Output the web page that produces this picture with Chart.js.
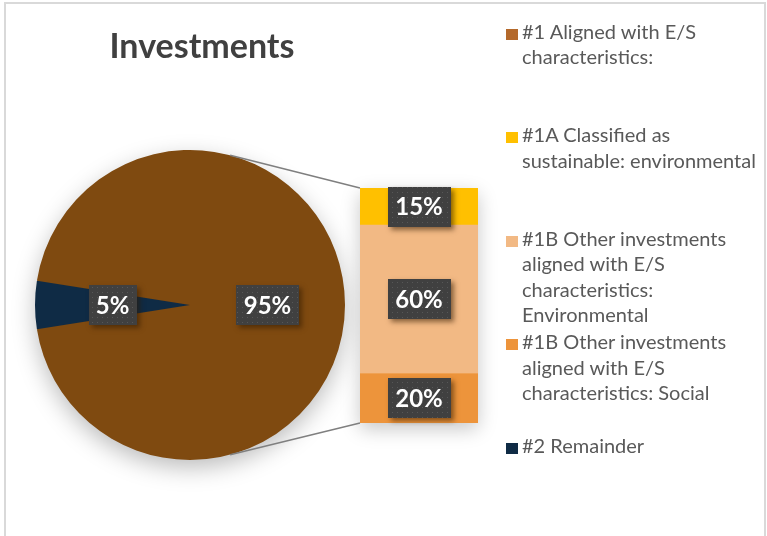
<!DOCTYPE html>
<html>
<head>
<meta charset="utf-8">
<script src="https://cdn.jsdelivr.net/npm/chart.js@4.4.1/dist/chart.umd.min.js"></script>
<style>
  html, body { margin: 0; padding: 0; background: #fff; }
  #wrap { position: relative; width: 767px; height: 536px; overflow: hidden; font-family: Lato, "Open Sans", sans-serif; }
  #frame { position: absolute; left: 4px; top: 2px; width: 758px; height: 600px; border: 2px solid #D9D9D9; }
  canvas.layer { position: absolute; left: 0; top: 0; }
  #title { position: absolute; left: 0; top: 25px; width: 404px; text-align: center;
           font: bold 34px Lato, sans-serif; line-height: 40px; color: #404040; }
  #legend { position: absolute; left: 506px; top: 0; }
  .item { position: absolute; left: 0; white-space: nowrap; }
  .box { position: absolute; left: 0; top: 10px; width: 12px; height: 11px; }
  .txt { position: absolute; left: 16px; top: 0; font-size: 20px; line-height: 25.5px; color: #595959; }
</style>
</head>
<body>
<div id="wrap">
  <div id="frame"></div>
  <canvas id="pieCanvas" class="layer" width="767" height="536"></canvas>
  <canvas id="barCanvas" class="layer" width="767" height="536"></canvas>
  <div id="title">Investments</div>
  <div id="legend"></div>
</div>
<script>
// pie: aligned vs remainder
const pieLabels = ['#1 Aligned with E/S characteristics:', '#2 Remainder'];
const pieValues = [95, 5];
const pieColors = ['#7F4A10', '#0F2B45'];

// bar: breakdown of the aligned slice (bottom to top)
const barLabels = [
  '#1B Other investments aligned with E/S characteristics: Social',
  '#1B Other investments aligned with E/S characteristics: Environmental',
  '#1A Classified as sustainable: environmental'
];
const barValues = [20, 60, 15];
const barColors = ['#ED943B', '#F2B984', '#FFC000'];

// legend entries, line by line
const legendLines = [
  ['#1 Aligned with E/S', 'characteristics:'],
  ['#1A Classified as', 'sustainable: environmental'],
  ['#1B Other investments', 'aligned with E/S', 'characteristics:', 'Environmental'],
  ['#1B Other investments', 'aligned with E/S', 'characteristics: Social'],
  ['#2 Remainder']
];
const legendColors = ['#B4692B', '#FFC000', '#F2B984', '#ED943B', '#0F2B45'];

// html legend
var legend = document.getElementById('legend');
legendLines.forEach(function(lines, i) {
  var item = document.createElement('div');
  item.className = 'item';
  item.style.top = (18.5 + i * 103.5) + 'px';
  item.innerHTML = '<div class="box" style="background:' + legendColors[i] + '"></div>' +
                   '<div class="txt">' + lines.join('<br>') + '</div>';
  legend.appendChild(item);
});

// dotted fill used by the data label boxes
var dotTile = document.createElement('canvas');
dotTile.width = 5; dotTile.height = 5;
(function() {
  var g = dotTile.getContext('2d');
  g.fillStyle = '#404040'; g.fillRect(0, 0, 5, 5);
  g.fillStyle = '#575757'; g.fillRect(2, 2, 1, 1);
})();

function drawTag(ctx, text, x, y) {
  ctx.save();
  ctx.font = 'bold 24px Lato';
  var w = 63, h = 40;
  if (text.length < 3) w = 48;
  var left = Math.round(x - w / 2), top = Math.round(y - h / 2);
  ctx.shadowColor = 'rgba(50,25,0,0.55)';
  ctx.shadowBlur = 5; ctx.shadowOffsetX = 3; ctx.shadowOffsetY = 3;
  ctx.fillStyle = '#404040';
  ctx.fillRect(left, top, w, h);
  ctx.shadowColor = 'transparent';
  ctx.fillStyle = ctx.createPattern(dotTile, 'repeat');
  ctx.fillRect(left, top, w, h);
  ctx.fillStyle = '#fff';
  ctx.textAlign = 'center'; ctx.textBaseline = 'middle';
  ctx.fillText(text, x, y + 1);
  ctx.restore();
}

function pct(v) { return v + '%'; }

const pieTotal = pieValues.reduce(function(a, b) { return a + b; }, 0);
const barTotal = barValues.reduce(function(a, b) { return a + b; }, 0);

var pieShadow = {
  id: 'pieShadow',
  beforeDatasetsDraw: function(chart) {
    var arc = chart.getDatasetMeta(0).data[0];
    var ctx = chart.ctx;
    ctx.save();
    ctx.shadowColor = 'rgba(0,0,0,0.28)';
    ctx.shadowBlur = 24; ctx.shadowOffsetY = 8;
    ctx.fillStyle = pieColors[0];
    ctx.beginPath();
    ctx.arc(arc.x, arc.y, arc.outerRadius - 1, 0, Math.PI * 2);
    ctx.fill();
    ctx.restore();
  }
};

var pieTags = {
  id: 'pieTags',
  afterDatasetsDraw: function(chart) {
    chart.getDatasetMeta(0).data.forEach(function(arc, i) {
      var p = arc.getCenterPoint();
      drawTag(chart.ctx, pct(pieValues[i]), p.x, p.y);
    });
  }
};

const pieChart = new Chart(document.getElementById('pieCanvas'), {
  type: 'pie',
  data: {
    labels: pieLabels,
    datasets: [{ data: pieValues, backgroundColor: pieColors, borderWidth: 0, hoverOffset: 0 }]
  },
  options: {
    responsive: false,
    animation: false,
    events: [],
    // first slice centred at 3 o'clock, facing the bar
    rotation: 90 - (pieValues[0] / pieTotal * 360) / 2,
    layout: { padding: { left: 35, top: 150, right: 422, bottom: 76 } },
    plugins: { legend: { display: false }, tooltip: { enabled: false } }
  },
  plugins: [pieShadow, pieTags]
});

var connectors = {
  id: 'connectors',
  beforeDatasetsDraw: function(chart) {
    var ctx = chart.ctx;
    var arc = pieChart.getDatasetMeta(0).data[0];
    var topBar = chart.getDatasetMeta(barValues.length - 1).data[0];
    var bottomBar = chart.getDatasetMeta(0).data[0];
    var left = topBar.x - topBar.width / 2;
    var a = 75 * Math.PI / 180;
    ctx.save();
    // soft shadow behind the bar
    ctx.shadowColor = 'rgba(0,0,0,0.22)';
    ctx.shadowBlur = 18; ctx.shadowOffsetY = 6;
    ctx.fillStyle = '#fff';
    ctx.fillRect(left, topBar.y, topBar.width, bottomBar.base - topBar.y);
    ctx.shadowColor = 'transparent';
    ctx.strokeStyle = '#7F7F7F';
    ctx.lineWidth = 1.5;
    ctx.beginPath();
    ctx.moveTo(arc.x + arc.outerRadius * Math.cos(-a), arc.y + arc.outerRadius * Math.sin(-a));
    ctx.lineTo(left, topBar.y);
    ctx.moveTo(arc.x + arc.outerRadius * Math.cos(a), arc.y + arc.outerRadius * Math.sin(a));
    ctx.lineTo(left, bottomBar.base);
    ctx.stroke();
    ctx.restore();
  }
};

var barTags = {
  id: 'barTags',
  afterDatasetsDraw: function(chart) {
    barValues.forEach(function(v, i) {
      var p = chart.getDatasetMeta(i).data[0].getCenterPoint();
      drawTag(chart.ctx, pct(v), p.x, p.y);
    });
  }
};

const barChart = new Chart(document.getElementById('barCanvas'), {
  type: 'bar',
  data: {
    labels: [''],
    datasets: barValues.map(function(v, i) {
      return { label: barLabels[i], data: [v], backgroundColor: barColors[i], borderWidth: 0,
               barPercentage: 1, categoryPercentage: 1 };
    })
  },
  options: {
    responsive: false,
    animation: false,
    events: [],
    layout: { padding: { left: 360, top: 188, right: 289, bottom: 113 } },
    scales: {
      x: { display: false, stacked: true },
      y: { display: false, stacked: true, min: 0, max: barTotal }
    },
    plugins: { legend: { display: false }, tooltip: { enabled: false } }
  },
  plugins: [connectors, barTags]
});
</script>
</body>
</html>
